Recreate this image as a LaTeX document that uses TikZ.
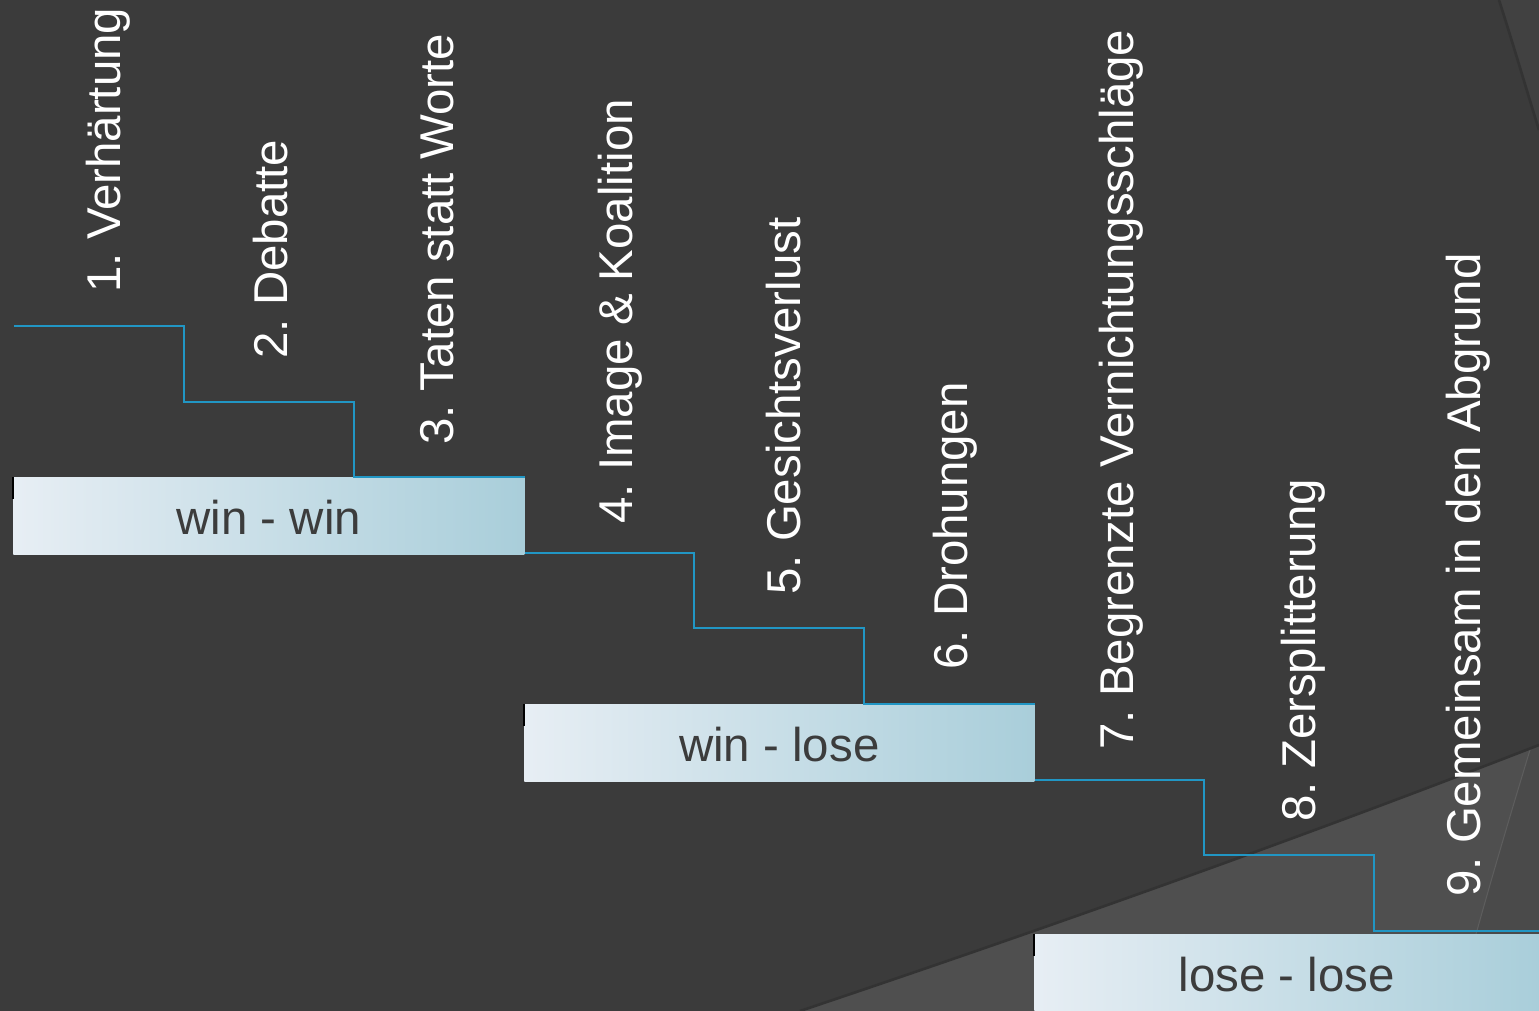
\documentclass[tikz,border=0pt]{standalone}
\usepackage{fontspec}
\setmainfont{Liberation Sans}
\frenchspacing

\definecolor{grund}{HTML}{3B3B3B}
\definecolor{hell}{HTML}{4F4F4F}
\definecolor{bogen}{HTML}{4A4A4A}
\definecolor{ecke}{HTML}{414141}
\definecolor{schatten}{HTML}{333333}
\definecolor{linie}{HTML}{2196C4}
\definecolor{boxl}{HTML}{E7EEF4}
\definecolor{boxm}{HTML}{DDE8EE}
\definecolor{boxr}{HTML}{A9CEDA}
\definecolor{schrift}{HTML}{3C3C3C}

\begin{document}
\begin{tikzpicture}[x=0.02cm,y=-0.02cm]
\tikzstyle{stufe}=[inner sep=0pt,anchor=north west,minimum width=10.22cm,text height=1.14cm,text depth=0.4cm,left color=boxl,middle color=boxm,right color=boxr,text=schrift,font=\fontsize{27}{27}\selectfont]
\tikzstyle{phase}=[rotate=90,anchor=base west,inner sep=0pt,text=white,font=\fontsize{27}{27}\selectfont]
\tikzstyle{treppe}=[draw=linie,line width=1.1pt]
\tikzstyle{marke}=[draw=black,line width=0.9pt]
\useasboundingbox (0,0) rectangle (1539,1011);
\fill[grund] (0,0) rectangle (1539,1011);
\fill[ecke] (1499,0) .. controls (1515,50) and (1528,95) .. (1539,130) -- (1539,0) -- cycle;
\draw[schatten,line width=1.5pt] (1499,0) .. controls (1515,50) and (1528,95) .. (1539,130);
\begin{scope}
\clip (800,1011) .. controls (1050,927) and (1300,838) .. (1539,745) -- (1539,1011) -- cycle;
\fill[hell] (0,0) rectangle (1539,1011);
\fill[bogen] (1455,1011) .. controls (1490,880) and (1515,800) .. (1545,700) -- (1545,1011) -- cycle;
\draw[hell!92!white,line width=0.6pt] (1455,1011) .. controls (1490,880) and (1515,800) .. (1545,700);
\end{scope}
\draw[schatten,line width=1.5pt] (800,1011) .. controls (1050,927) and (1300,838) .. (1539,745);

\node[stufe] (ww) at (13,477) {win - win};
\node[stufe,minimum width=10.2cm] (wl) at (524,704) {win - lose};
\node[stufe,minimum width=10.1cm] (ll) at (1034,934) {lose - lose};
\draw[marke] (ww.north west) -- ++(0,22);
\draw[marke] (wl.north west) -- ++(0,22);
\draw[marke] (ll.north west) -- ++(0,22);

\coordinate (a0) at (14,326);
\coordinate (e3) at (1539,931);
\draw[treppe] (a0) -| (184,402) -| (354,477) -- (ww.north east);
\draw[treppe] ([yshift=1.1pt]ww.south east) -| (694,628) -| (864,704) -- (wl.north east);
\draw[treppe] ([yshift=1.1pt]wl.south east) -| (1204,855) -| (1374,931) -- (e3);

\node[phase] (p1) at (120,293) {1. Verhärtung};
\node[phase] (p2) at (287,359) {2. Debatte};
\node[phase] (p3) at (453,445) {3. Taten statt Worte};
\node[phase] (p4) at (632,524) {4. Image \& Koalition};
\node[phase] (p5) at (800,595) {5. Gesichtsverlust};
\node[phase] (p6) at (967,670) {6. Drohungen};
\node[phase] (p7) at (1133,750) {7. Begrenzte Vernichtungsschläge};
\node[phase] (p8) at (1315,822) {8. Zersplitterung};
\node[phase] (p9) at (1480,897) {9. Gemeinsam in den Abgrund};
\end{tikzpicture}
\end{document}
